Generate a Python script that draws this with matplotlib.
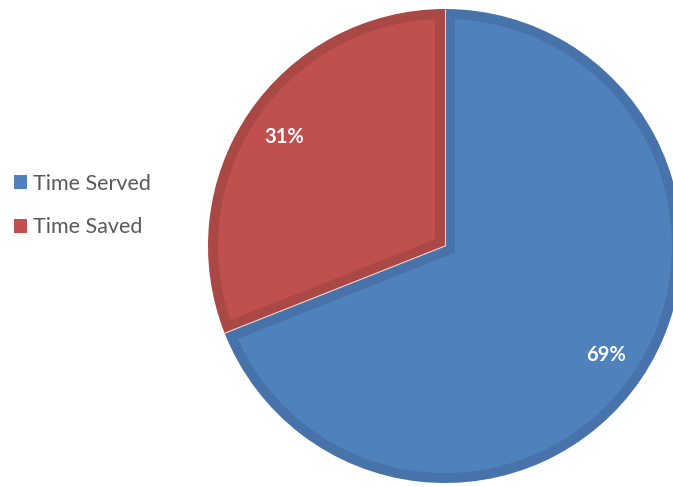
import numpy as np
import matplotlib
matplotlib.use('Agg')
import matplotlib.pyplot as plt
from matplotlib.patches import Patch, Polygon

labels = ['Time Served', 'Time Saved']
shares = [69, 31]
fills = ['#4F81BD', '#C0504D']
rims = ['#4773AA', '#AA4845']

W, H = 673, 487
fig = plt.figure(figsize=(W/100, H/100), dpi=100)
ax = fig.add_axes([0, 0, 1, 1])

cx, cy, r = 445, 241, 237
rim = 10  # width of the darker band, in data units (= pixels here)

wedges, texts, autotexts = ax.pie(shares, startangle=90, counterclock=False,
                                  colors=rims, center=(cx, cy), radius=r,
                                  frame=True, autopct='%.0f%%', pctdistance=0.82,
                                  wedgeprops=dict(linewidth=0),
                                  textprops=dict(color='white', fontsize=14.5,
                                                 fontweight='bold', family='Lato'))

# lighter inset of each slice, leaving a darker rim along its outline
for w, fc in zip(wedges, fills):
    t1, t2 = np.deg2rad(w.theta1), np.deg2rad(w.theta2)
    span = t2 - t1
    mid = 0.5*(t1 + t2)
    apex = rim/np.sin(span/2)
    delta = np.arcsin(rim/(r - rim))
    tt = np.linspace(t1 + delta, t2 - delta, 200)
    xs = np.r_[cx + apex*np.cos(mid), cx + (r - rim)*np.cos(tt)]
    ys = np.r_[cy + apex*np.sin(mid), cy + (r - rim)*np.sin(tt)]
    ax.add_patch(Polygon(np.c_[xs, ys], closed=True, facecolor=fc,
                         edgecolor='none', zorder=1.5))
    w.set_zorder(1)

for t in autotexts:
    t.set_zorder(3)

# thin light seam between the slices
for w in wedges:
    t = np.deg2rad(w.theta1)
    ax.plot([cx, cx + r*np.cos(t)], [cy, cy + r*np.sin(t)], color='#EBD3D2',
            lw=0.8, solid_capstyle='butt', zorder=2)

ax.set_xlim(0, W)
ax.set_ylim(0, H)
ax.set_aspect('equal')
ax.axis('off')

handles = [Patch(facecolor=c, edgecolor='none') for c in fills]
fig.legend(handles, labels, loc='center left', bbox_to_anchor=(14/W, 0.578),
           borderpad=0, borderaxespad=0,
           frameon=False, handlelength=0.6, handleheight=0.6, handletextpad=0.3,
           labelspacing=1.1, prop=dict(family='Lato', size=15.5), labelcolor='#595959')

fig.savefig('out.png', dpi=100)
